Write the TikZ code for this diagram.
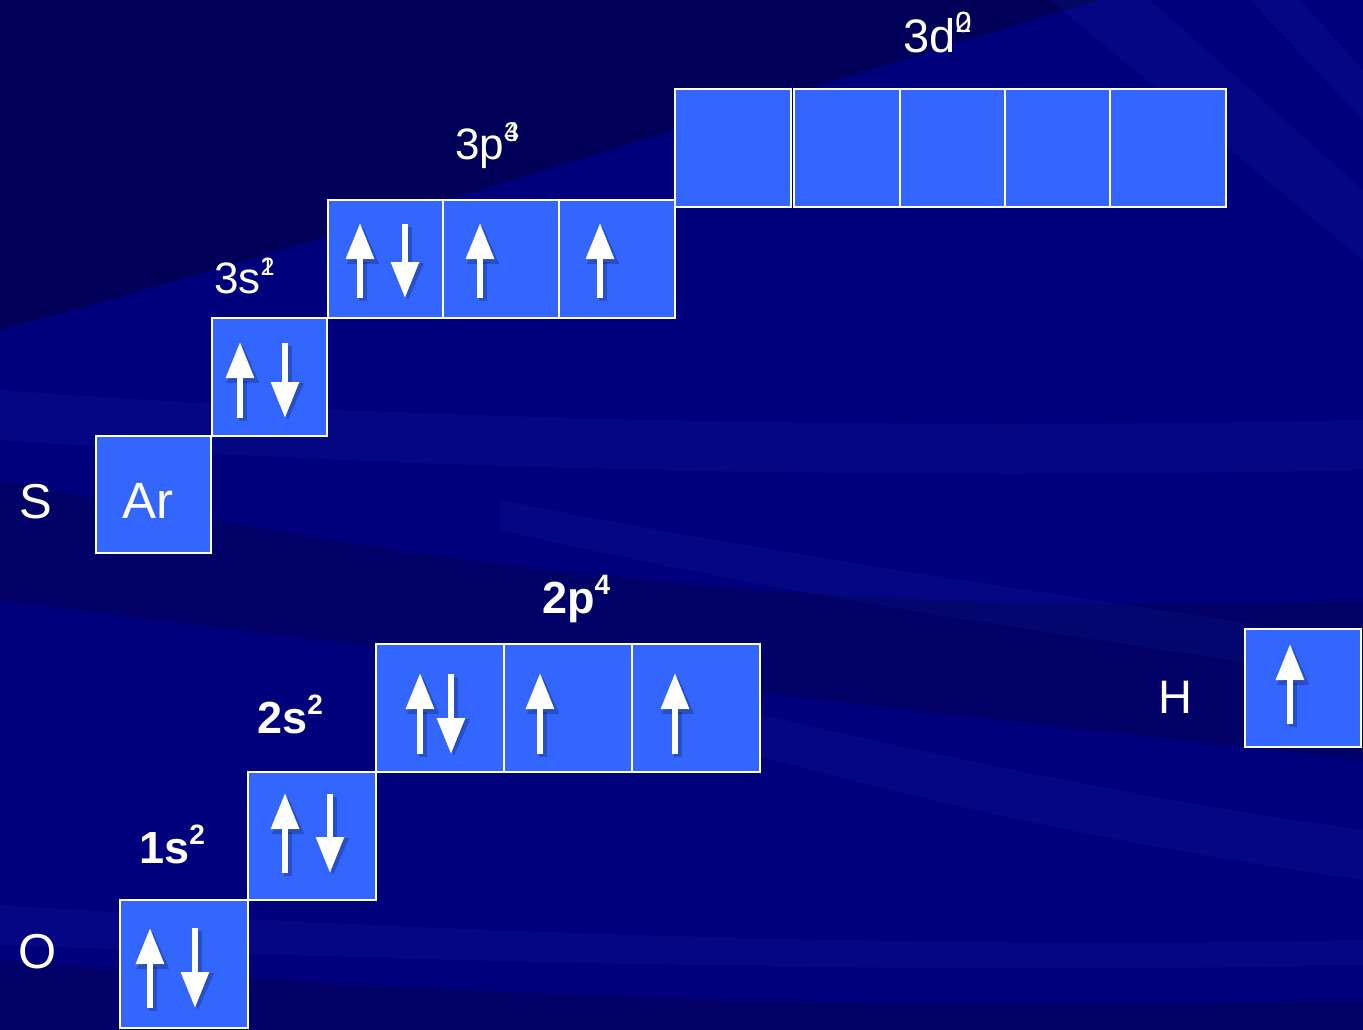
\documentclass[tikz,border=0pt]{standalone}
\usepackage{fontspec}
\setmainfont{Liberation Sans}
\usetikzlibrary{arrows.meta}
\definecolor{bgbase}{RGB}{0,0,125}
\definecolor{bgdark}{RGB}{0,0,60}
\definecolor{streak}{RGB}{40,60,200}
\definecolor{orbfill}{RGB}{51,102,255}
\tikzset{
  orb/.style={draw=white, line width=2pt, fill=orbfill, inner sep=0pt, text=white},
  spin/.style={white, line width=6pt, -{Triangle[width=27pt,length=36pt]}},
  spinshadow/.style={black, opacity=0.22, line width=8pt, -{Triangle[width=30pt,length=38pt]}},
  lbl/.style={text=white, anchor=base west, inner sep=0pt},
  band/.style={fill=streak, opacity=0.1, draw=none},
}
\newcommand\supx[3]{\raisebox{#1pt}{\fontsize{#2}{#2}\selectfont #3}}
\newcommand\spinup[3]{\draw[spinshadow] (#1+3,#2+3) -- (#1+3,#3+3); \draw[spin] (#1,#2) -- (#1,#3);}
\begin{document}
\begin{tikzpicture}[x=1pt,y=-1pt]
\useasboundingbox (0,0) rectangle (1363,1030);
% background
\fill[bgbase] (0,0) rectangle (1363,1030);
\fill[bgdark, opacity=0.55] (0,0) -- (1100,0) .. controls (700,120) and (300,250) .. (0,330) -- cycle;
\fill[bgdark, opacity=0.35] (0,480) .. controls (400,560) and (800,620) .. (1363,600) -- (1363,760) .. controls (800,700) and (400,650) .. (0,600) -- cycle;
\fill[bgdark, opacity=0.35] (0,960) .. controls (500,1000) and (900,1010) .. (1363,1000) -- (1363,1030) -- (0,1030) -- cycle;
\fill[band] (0,390) .. controls (400,420) and (900,430) .. (1363,420) -- (1363,470) .. controls (900,480) and (400,470) .. (0,440) -- cycle;
\fill[band] (0,905) .. controls (400,930) and (900,950) .. (1363,940) -- (1363,965) .. controls (900,975) and (400,960) .. (0,945) -- cycle;
\fill[band] (700,700) .. controls (950,760) and (1150,800) .. (1363,830) -- (1363,880) .. controls (1150,850) and (950,810) .. (700,740) -- cycle;
\fill[band] (1050,0) -- (1150,0) -- (1363,190) -- (1363,260) -- cycle;
\fill[band] (1250,0) -- (1300,0) -- (1363,70) -- (1363,120) -- cycle;
\fill[band] (500,500) .. controls (800,560) and (1100,600) .. (1363,640) -- (1363,680) .. controls (1100,640) and (800,600) .. (500,530) -- cycle;

% S orbitals
\node[orb, minimum width=115, minimum height=117] (ar) at (153.5,494.5) {};
\node[lbl] (arl) at (122,518) {\fontsize{51}{56}\selectfont Ar};
\node[orb, minimum width=115, minimum height=118] (s3s) at (269.5,377) {};
\node[orb, minimum width=115, minimum height=118] (s3p1) at (385.5,259) {};
\node[orb, minimum width=116, minimum height=118] (s3p2) at (501,259) {};
\node[orb, minimum width=116, minimum height=118] (s3p3) at (617,259) {};
\node[orb, minimum width=116, minimum height=118] (s3d1) at (733,148) {};
\node[orb, minimum width=106, minimum height=118] (s3d2) at (847,148) {};
\node[orb, minimum width=105, minimum height=118] (s3d3) at (952.5,148) {};
\node[orb, minimum width=105, minimum height=118] (s3d4) at (1057.5,148) {};
\node[orb, minimum width=116, minimum height=118] (s3d5) at (1168,148) {};
% O orbitals
\node[orb, minimum width=128, minimum height=128] (o1s) at (184,964) {};
\node[orb, minimum width=128, minimum height=128] (o2s) at (312,836) {};
\node[orb, minimum width=128, minimum height=128] (o2p1) at (440,708) {};
\node[orb, minimum width=128, minimum height=128] (o2p2) at (568,708) {};
\node[orb, minimum width=128, minimum height=128] (o2p3) at (696,708) {};
% H orbital
\node[orb, minimum width=116, minimum height=118] (h1s) at (1303,688) {};

% labels
\node[lbl] (lS) at (19,518) {\fontsize{49}{56}\selectfont S};
\node[lbl] (lO) at (18,968) {\fontsize{49}{56}\selectfont O};
\node[lbl] (lH) at (1158,713) {\fontsize{47}{56}\selectfont H};
\node[lbl] (l3d) at (903,53) {\fontsize{47}{56}\selectfont 3d\rlap{\supx{20}{29}{0}}\supx{20}{29}{2}};
\node[lbl] (l3p) at (455,160) {\fontsize{44}{56}\selectfont 3p\rlap{\supx{18}{27}{3}}\supx{18}{27}{4}};
\node[lbl] (l3s) at (214,293) {\fontsize{44}{56}\selectfont 3s\rlap{\supx{18}{25}{2}}\supx{18}{25}{1}};
\node[lbl] (l2p) at (542,613) {\fontsize{45}{56}\selectfont\bfseries 2p\supx{19}{28}{4}};
\node[lbl] (l2s) at (257,733) {\fontsize{45}{56}\selectfont\bfseries 2s\supx{19}{28}{2}};
\node[lbl] (l1s) at (139,863) {\fontsize{45}{56}\selectfont\bfseries 1s\supx{19}{28}{2}};

% spins (S)
\spinup{240}{418}{342}
\spinup{285}{343}{418}
\spinup{360}{298}{223}
\spinup{405}{224}{298}
\spinup{480}{298}{223}
\spinup{600}{298}{223}
% spins (O)
\spinup{420}{754}{673}
\spinup{451}{674}{754}
\spinup{540}{754}{673}
\spinup{675}{754}{673}
\spinup{285}{873}{793}
\spinup{330}{794}{873}
\spinup{150}{1008}{928}
\spinup{195}{928}{1008}
% spin (H)
\spinup{1290}{724}{644}
\end{tikzpicture}
\end{document}
